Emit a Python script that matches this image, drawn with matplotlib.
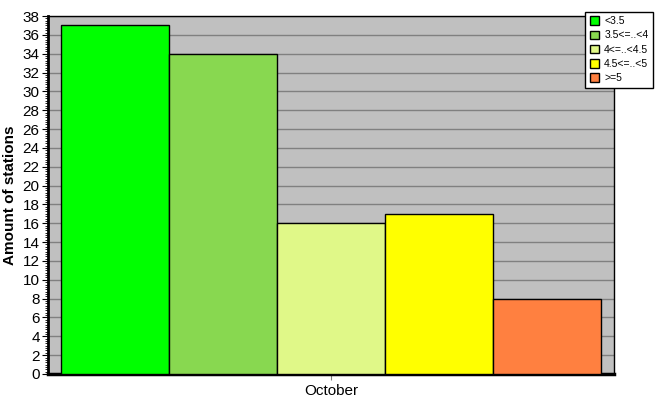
"""Station count bar chart for October, grouped by value class."""

import matplotlib
matplotlib.use("Agg")
import matplotlib.pyplot as plt
from matplotlib.ticker import MultipleLocator


MONTH = "October"
CLASSES = ["<3.5", "3.5<=..<4", "4<=..<4.5", "4.5<=..<5", ">=5"]
STATION_COUNTS = [37, 34, 16, 17, 8]
CLASS_COLORS = ["#00ff00", "#88d850", "#e0f888", "#ffff00", "#ff8040"]


def draw_chart(output_path: str = "out.png") -> None:
    """Render the grouped bar chart and save it."""
    plt.rcParams["font.family"] = ["Liberation Sans", "DejaVu Sans"]
    fig = plt.figure(figsize=(6.67, 4.15), dpi=100)
    ax = fig.add_axes([0.072, 0.0988, 0.8485, 0.8626])
    ax.set_facecolor("#c0c0c0")

    n = len(CLASSES)
    offsets = [i - (n - 1) / 2 for i in range(n)]
    ax.bar(offsets, STATION_COUNTS, width=1.0, color=CLASS_COLORS,
           edgecolor="black", linewidth=1.0, zorder=3)

    ax.set_xlim(-n / 2 - 0.12, n / 2 + 0.12)
    ax.set_ylim(0, 38)
    ax.yaxis.set_major_locator(MultipleLocator(2))
    ax.yaxis.set_minor_locator(MultipleLocator(0.25))
    ax.grid(axis="y", color="#808080", linewidth=1.0, zorder=1)
    ax.set_axisbelow(True)

    ax.set_xticks([0])
    ax.set_xticklabels([MONTH], fontsize=11)
    ax.tick_params(axis="x", length=4, color="#808080", pad=3)
    ax.tick_params(axis="y", which="major", length=4, labelsize=11, pad=2)
    ax.tick_params(axis="y", which="minor", length=2, width=0.6)

    for side in ("top", "right"):
        ax.spines[side].set_linewidth(1.0)
    ax.spines["left"].set_linewidth(2.0)
    ax.spines["bottom"].set_linewidth(2.5)

    ax.set_ylabel("Amount of stations", fontsize=11, fontweight="bold", labelpad=4)

    handles = [plt.Rectangle((0, 0), 1, 1, facecolor=c, edgecolor="black", linewidth=1.0)
               for c in CLASS_COLORS]
    legend = fig.legend(handles, CLASSES, loc="upper right", bbox_to_anchor=(0.979, 0.972),
                        fontsize=7.5, frameon=True, fancybox=False, edgecolor="black",
                        framealpha=1.0, handlelength=0.9, handleheight=0.9,
                        handletextpad=0.5, labelspacing=0.4, borderpad=0.45,
                        borderaxespad=0)
    legend.get_frame().set_linewidth(1.0)

    fig.savefig(output_path, dpi=100, facecolor="white")
    plt.close(fig)


if __name__ == "__main__":
    draw_chart()
